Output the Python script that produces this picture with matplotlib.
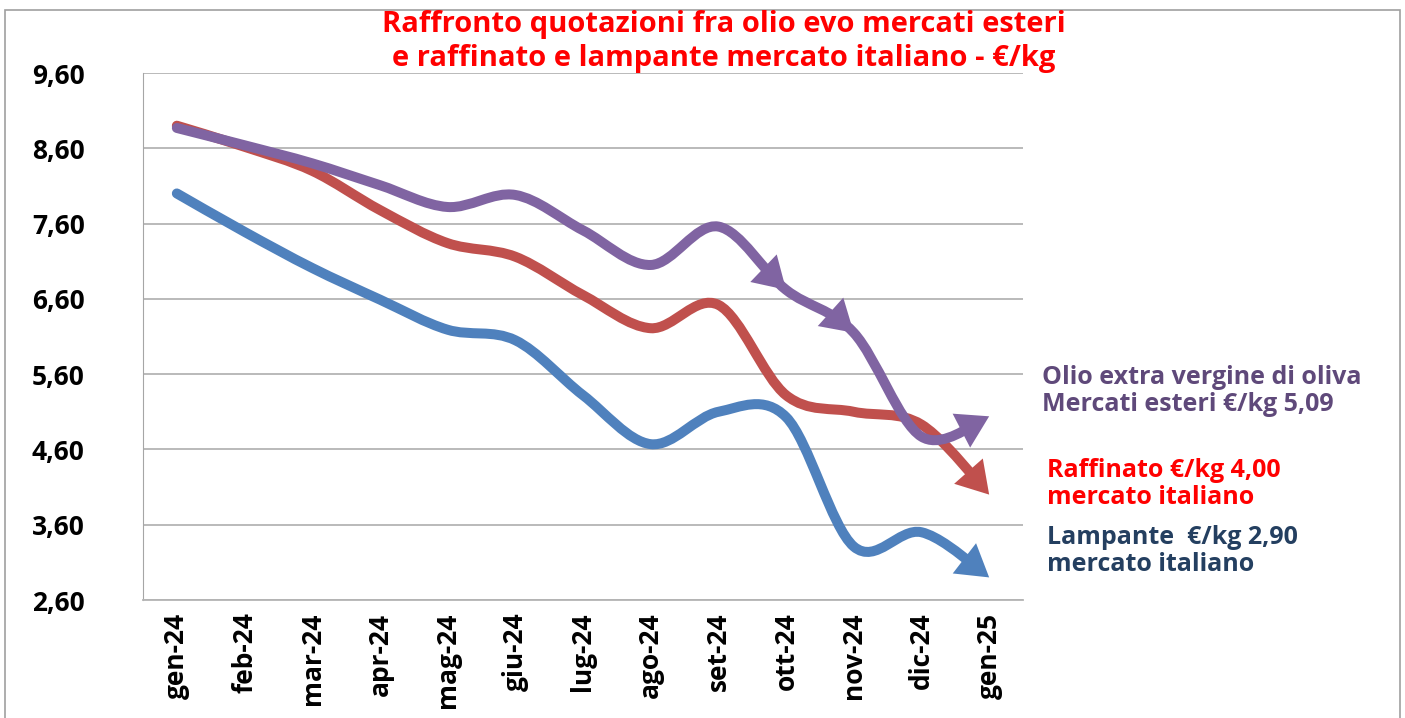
import matplotlib
matplotlib.use('Agg')
import matplotlib.pyplot as plt
from matplotlib.path import Path
from matplotlib.patches import PathPatch, Rectangle
import numpy as np

months = ['gen-24', 'feb-24', 'mar-24', 'apr-24', 'mag-24', 'giu-24', 'lug-24',
          'ago-24', 'set-24', 'ott-24', 'nov-24', 'dic-24', 'gen-25']
evo_estero = [8.87, 8.64, 8.40, 8.11, 7.82, 7.98, 7.51, 7.05, 7.56, 6.72, 6.15, 4.77, 5.04]
raffinato = [8.90, 8.62, 8.30, 7.78, 7.34, 7.16, 6.65, 6.21, 6.52, 5.32, 5.10, 4.93, 4.00]
lampante = [8.00, 7.49, 7.01, 6.59, 6.19, 6.05, 5.32, 4.67, 5.10, 5.03, 3.31, 3.50, 2.90]
yticks = [2.6, 3.6, 4.6, 5.6, 6.6, 7.6, 8.6, 9.6]

PURPLE = '#8064A2'
RED = '#C0504D'
BLUE = '#4F81BD'

plt.rcParams['font.family'] = ['Open Sans', 'DejaVu Sans']


def bezier_segments(y):
    # excel-like smoothing: catmull-rom turned into cubic bezier pieces
    x = np.arange(len(y), dtype=float)
    p = np.column_stack([x, np.asarray(y, dtype=float)])
    segs = []
    for i in range(len(p) - 1):
        p0 = p[i - 1] if i > 0 else p[i]
        p3 = p[i + 2] if i + 2 < len(p) else p[i + 1]
        c1 = p[i] + (p[i + 1] - p0) / 6.0
        c2 = p[i + 1] - (p3 - p[i]) / 6.0
        segs.append([p[i], c1, c2, p[i + 1]])
    return segs


def split(seg, t):
    a, b, c, d = [np.asarray(v) for v in seg]
    ab = a + (b - a) * t
    bc = b + (c - b) * t
    cd = c + (d - c) * t
    abc = ab + (bc - ab) * t
    bcd = bc + (cd - bc) * t
    m = abc + (bcd - abc) * t
    return [a, ab, abc, m], [m, bcd, cd, d]


def draw_series(ax, y, color, mid_arrows=()):
    segs = bezier_segments(y)
    last_head, _ = split(segs[-1], 0.72)
    segs = segs[:-1] + [last_head]
    verts = [segs[0][0]]
    codes = [Path.MOVETO]
    for s in segs:
        verts += [s[1], s[2], s[3]]
        codes += [Path.CURVE4] * 3
    patch = PathPatch(Path(verts, codes), fill=False, edgecolor=color, lw=7.2,
                      capstyle='round', joinstyle='round', zorder=3)
    ax.add_patch(patch)
    full = bezier_segments(y)
    style = '-|>,head_length=0.9,head_width=0.55'
    ends = [len(y) - 1] + list(mid_arrows)
    for i in ends:
        back, _ = split(full[i - 1], 0.8)
        ax.annotate('', xy=(i, y[i]), xytext=tuple(back[3]),
                    arrowprops=dict(arrowstyle=style, mutation_scale=25, color=color,
                                    lw=0, shrinkA=0, shrinkB=0), zorder=4)


fig = plt.figure(figsize=(14.05, 7.18), dpi=100)
ax = fig.add_axes([143 / 1405, 1 - 600 / 718, 880 / 1405, 527 / 718])

draw_series(ax, lampante, BLUE)
draw_series(ax, raffinato, RED)
draw_series(ax, evo_estero, PURPLE, mid_arrows=(9, 10))

ax.set_xlim(-0.5, len(months) - 0.5)
ax.set_ylim(2.6, 9.6)
ax.set_yticks(yticks)
ax.yaxis.set_major_formatter(matplotlib.ticker.FuncFormatter(lambda v, p: ('%.2f' % v).replace('.', ',')))
ax.set_xticks(range(len(months)))
ax.set_xticklabels(months, rotation=90)
ax.grid(axis='y', color='#B4B4B4', lw=1.3, zorder=0)
ax.set_axisbelow(True)
for s in ['top', 'right']:
    ax.spines[s].set_visible(False)
ax.spines['left'].set_color('#A6A6A6')
ax.spines['bottom'].set_color('#B4B4B4')
ax.spines['bottom'].set_linewidth(1.3)
ax.tick_params(axis='y', length=0, pad=42, labelsize=19)
ax.tick_params(axis='x', length=0, pad=9, labelsize=19)
for lab in ax.get_xticklabels() + ax.get_yticklabels():
    lab.set_fontweight('bold')
    lab.set_color('black')

fig.text(0.515, 0.942, 'Raffronto quotazioni fra olio evo mercati esteri\ne raffinato e lampante mercato italiano - €/kg',
         ha='center', va='center', color='#FF0000', fontsize=21, fontweight='bold', linespacing=1.2)

fig.text(1042 / 1405, 1 - 391 / 718, 'Olio extra vergine di oliva\nMercati esteri €/kg 5,09',
         ha='left', va='center', color='#5F497A', fontsize=18, fontweight='bold', linespacing=1.15)
fig.text(1047 / 1405, 1 - 484 / 718, 'Raffinato €/kg 4,00\nmercato italiano',
         ha='left', va='center', color='#FF0000', fontsize=18, fontweight='bold', linespacing=1.15)
fig.text(1047 / 1405, 1 - 551 / 718, 'Lampante  €/kg 2,90\nmercato italiano',
         ha='left', va='center', color='#243F60', fontsize=18, fontweight='bold', linespacing=1.15)

fig.add_artist(Rectangle((5 / 1405, -0.05), 1395 / 1405, 1.05 - 10 / 718, transform=fig.transFigure,
                         fill=False, edgecolor='#A0A0A0', lw=1.2))

plt.savefig('out.png', dpi=100)
